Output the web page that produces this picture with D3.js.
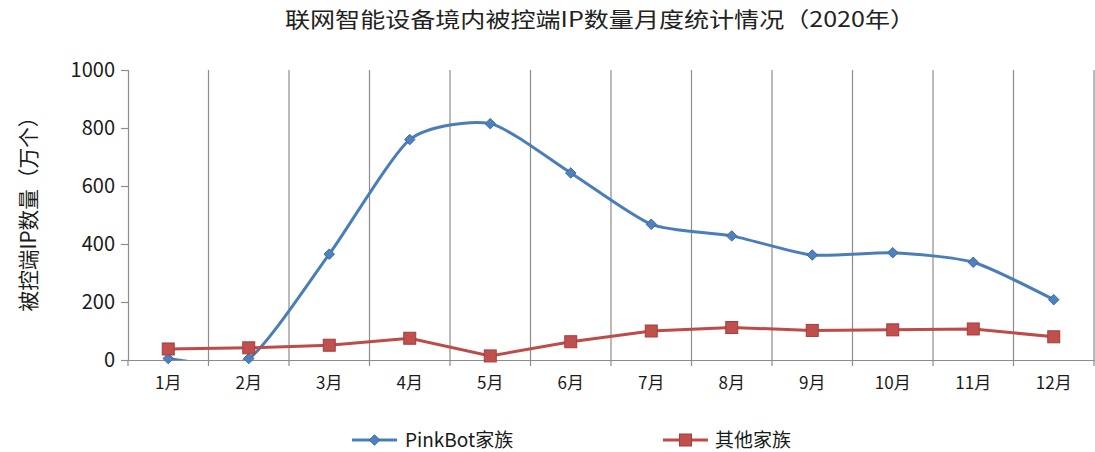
<!DOCTYPE html>
<html><head><meta charset="utf-8">
<script src="https://cdn.jsdelivr.net/npm/d3@7"></script>
<style>
body{margin:0;background:#fff;}
svg{display:block;}
text{font-family:"Noto Sans CJK SC","Noto Sans",sans-serif;}
</style></head>
<body><svg id="c" width="1095" height="452"></svg>
<script>
const months = ["1月","2月","3月","4月","5月","6月","7月","8月","9月","10月","11月","12月"];
const pinkbot = [5, 5, 365, 760, 815, 645, 468, 428, 362, 370, 337, 208];
const others = [38, 42, 51, 75, 14, 63, 100, 112, 102, 104, 107, 80];
const yTicks = [0, 200, 400, 600, 800, 1000];
const seriesNames = ["PinkBot家族", "其他家族"];
const title = "联网智能设备境内被控端IP数量月度统计情况（2020年）";
const yTitle = "被控端IP数量（万个）";

const svg = d3.select("#c");
const L = 128, R = 1094, T = 70, B = 360;
const x = d3.scaleBand().domain(months).range([L, R]).padding(0);
const y = d3.scaleLinear().domain([0, 1000]).range([B, T]);
const blue = "#4A7EBB", red = "#BE4B48";
const gridC = "#8c8c8c";

svg.append("defs").append("clipPath").attr("id", "plotclip")
  .append("rect").attr("x", L).attr("y", 0).attr("width", R - L).attr("height", B);

// title
svg.append("text").attr("x", 600).attr("y", 27).attr("text-anchor", "middle")
  .attr("font-size", 21).attr("fill", "#222")
  .attr("textLength", 630).attr("lengthAdjust", "spacingAndGlyphs")
  .text(title);

// vertical gridlines at band boundaries
const bounds = months.map(m => x(m)).concat([R]);
svg.append("g").selectAll("line").data(bounds.slice(1)).join("line")
  .attr("x1", d => d).attr("x2", d => d).attr("y1", T).attr("y2", B + 6)
  .attr("stroke", gridC).attr("stroke-width", 1.2);
svg.append("line").attr("x1", L).attr("x2", L).attr("y1", B).attr("y2", B + 6)
  .attr("stroke", gridC).attr("stroke-width", 1.2);

// y axis
const yAxis = d3.axisLeft(y).tickValues(yTicks).tickFormat(d3.format("d")).tickSize(7).tickPadding(6);
const gy = svg.append("g").attr("transform", `translate(${L},0)`).call(yAxis);
gy.select(".domain").attr("stroke", gridC).attr("stroke-width", 1.2);
gy.selectAll(".tick line").attr("stroke", gridC).attr("stroke-width", 1.2);
gy.selectAll(".tick text").attr("font-size", 20).attr("fill", "#1a1a1a")
  .attr("font-family", "'Open Sans','Noto Sans',sans-serif");

// x axis
const xAxis = d3.axisBottom(x).tickSize(0).tickPadding(17);
const gx = svg.append("g").attr("transform", `translate(0,${B})`).call(xAxis);
gx.select(".domain").attr("stroke", gridC).attr("stroke-width", 1.2);
gx.selectAll(".tick text").attr("font-size", 17).attr("fill", "#1a1a1a");

// y title
svg.append("text").attr("transform", `translate(30,209) rotate(-90)`)
  .attr("text-anchor", "middle").attr("dominant-baseline", "middle")
  .attr("font-size", 21).attr("fill", "#1a1a1a")
  .attr("textLength", 205).attr("lengthAdjust", "spacingAndGlyphs").text(yTitle);

const cx = m => x(m) + x.bandwidth() / 2;

// PinkBot line (smoothed)
const lineSmooth = d3.line().x((d, i) => cx(months[i])).y(d => y(d)).curve(d3.curveCardinal.tension(0.35));
svg.append("path").datum(pinkbot).attr("d", lineSmooth).attr("clip-path", "url(#plotclip)")
  .attr("fill", "none").attr("stroke", blue).attr("stroke-width", 3);

// Others line (straight)
const lineStraight = d3.line().x((d, i) => cx(months[i])).y(d => y(d));
svg.append("path").datum(others).attr("d", lineStraight)
  .attr("fill", "none").attr("stroke", red).attr("stroke-width", 3);

// markers
const diamond = d3.symbol().type(d3.symbolDiamond2).size(70);
svg.append("g").selectAll("path").data(pinkbot).join("path")
  .attr("transform", (d, i) => `translate(${cx(months[i])},${y(d)})`)
  .attr("d", diamond).attr("fill", "#4F81BD").attr("stroke", "#3c6aa3").attr("stroke-width", 1);

svg.append("g").selectAll("rect").data(others).join("rect")
  .attr("x", (d, i) => cx(months[i]) - 6).attr("y", d => y(d) - 6)
  .attr("width", 12).attr("height", 12)
  .attr("fill", "#C0504D").attr("stroke", "#a23e3b").attr("stroke-width", 1);

// legend
const lg = svg.append("g");
const legendItems = [
  {name: seriesNames[0], color: blue, x1: 352, x2: 397, text: 405, type: "d"},
  {name: seriesNames[1], color: red, x1: 663, x2: 708, text: 715, type: "s"}
];
const ly = 440;
legendItems.forEach(it => {
  lg.append("line").attr("x1", it.x1).attr("x2", it.x2).attr("y1", ly).attr("y2", ly)
    .attr("stroke", it.color).attr("stroke-width", 3);
  const mx = (it.x1 + it.x2) / 2;
  if (it.type === "d") {
    lg.append("path").attr("transform", `translate(${mx},${ly})`).attr("d", diamond)
      .attr("fill", "#4F81BD").attr("stroke", "#3c6aa3");
  } else {
    lg.append("rect").attr("x", mx - 6).attr("y", ly - 6).attr("width", 12).attr("height", 12)
      .attr("fill", "#C0504D").attr("stroke", "#a23e3b");
  }
  lg.append("text").attr("x", it.text).attr("y", ly + 7)
    .attr("font-size", 19).attr("fill", "#1a1a1a").text(it.name);
});
</script></body></html>
